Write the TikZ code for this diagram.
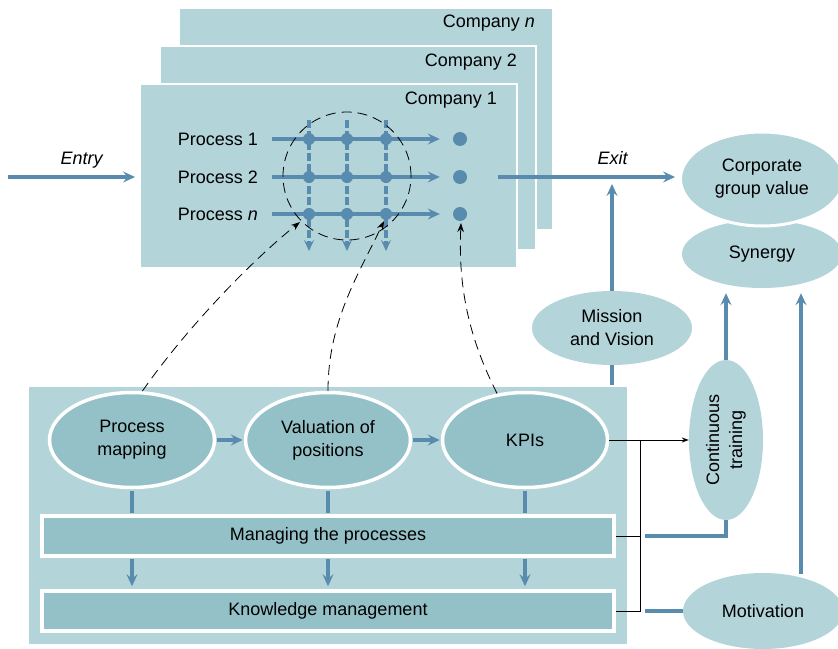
\documentclass[tikz,border=0pt]{standalone}
\usepackage{fontspec}
\setmainfont{Liberation Sans}
\usetikzlibrary{arrows.meta,shapes.geometric,calc}
\definecolor{lightfill}{HTML}{B3D4D9}
\definecolor{darkfill}{HTML}{94C1C7}
\definecolor{flow}{HTML}{588BAE}
\begin{document}
\begin{tikzpicture}[x=1pt,y=-1pt,
  font=\fontsize{18}{23}\selectfont,
  company/.style={fill=lightfill, draw=white, line width=2.5pt},
  flowline/.style={draw=flow, line width=3.8pt},
  flowarrow/.style={flowline, -{Stealth[length=12pt,width=11pt,inset=4.5pt]}},
  gridarrow/.style={draw=flow, line width=3.3pt, dash pattern=on 8pt off 3pt, -{Stealth[length=11pt,width=10pt,inset=4.5pt]}},
  dot/.style={circle, fill=flow, minimum size=12pt, inner sep=0},
  outdot/.style={circle, fill=flow, minimum size=14pt, inner sep=0},
  linkdash/.style={draw=black, line width=0.8pt, dash pattern=on 10pt off 6pt, -{Stealth[length=9pt,width=6.5pt]}},
  thinline/.style={draw=black, line width=1pt},
  darkoval/.style={ellipse, fill=darkfill, draw=white, line width=3.5pt, minimum width=165pt, minimum height=95pt, inner sep=0, align=center},
  lightoval/.style={ellipse, fill=lightfill, inner sep=0, align=center},
  bar/.style={rectangle, fill=darkfill, draw=white, line width=3.5pt, minimum width=572pt, minimum height=40pt, inner sep=0}
]
\clip (0,0) rectangle (838,648);
\fill[white] (0,0) rectangle (838,648);

% company stack
\draw[company] (179,8) rectangle (553,230);
\node[anchor=east, inner sep=0] (cn) at (535,23) {Company \textit{n}};
\draw[company] (160,46) rectangle (536,250);
\node[anchor=east, inner sep=0] (c2) at (517,62) {Company 2};
\draw[company] (140,84) rectangle (517,268);
\node[anchor=east, inner sep=0] (c1) at (497,100) {Company 1};

% entry
\coordinate (entry) at (8,177);
\coordinate (c1w) at (135,177);
\draw[flowarrow] (entry) -- (c1w);
\node (entrylab) at (82,160) {\textit{Entry}};

% processes
\node[anchor=east, inner sep=0] (p1) at (258,139) {Process 1};
\node[anchor=east, inner sep=0] (p2) at (258,177) {Process 2};
\node[anchor=east, inner sep=0] (p3) at (258,214) {Process \textit{n}};

\foreach \c/\x in {1/309,2/347,3/386} {
  \coordinate (vt\c) at (\x,120);
  \coordinate (vb\c) at (\x,251);
  \draw[gridarrow] (vt\c) -- (vb\c);
}
\foreach \r/\y in {1/139,2/177,3/214} {
  \node[outdot] (o\r) at (460,\y) {};
  \draw[flowarrow, shorten <=14pt, shorten >=13pt] (p\r.east) -- (o\r.west);
  \foreach \c/\x in {1/309,2/347,3/386} {
    \node[dot] (g\r\c) at (\x,\y) {};
  }
}
\node[circle, draw=black, line width=0.8pt, dash pattern=on 10pt off 6pt, minimum size=128pt, inner sep=0] (zone) at (347,176) {};

% right side ovals
\node[lightoval, minimum width=160pt, minimum height=68pt] (syn) at (762,254) {Synergy};
\node[lightoval, draw=white, line width=3pt, minimum width=163pt, minimum height=94pt] (cgv) at (762,179) {Corporate\\group value};
\node[lightoval, minimum width=160pt, minimum height=74pt] (mv) at (612,328) {Mission\\and Vision};
\node[lightoval, minimum width=74pt, minimum height=160pt] (ct) at (726,440)
  {\rotatebox{90}{\begin{tabular}{@{}c@{}}Continuous\\training\end{tabular}}};
\node[lightoval, minimum width=160pt, minimum height=76pt] (mot) at (763,611) {Motivation};

% exit
\coordinate (exitstart) at (498,177);
\draw[flowarrow, shorten >=4pt] (exitstart) -- (exitstart -| cgv.west);
\node (exitlab) at (613,158) {\textit{Exit}};
\draw[flowarrow, shorten >=7pt] (mv.north) -- (mv.north |- exitstart);
\draw[flowline] (mv.south) -- ++(0,30);

% bottom box
\draw[fill=lightfill, draw=white, line width=2pt] (28,386) rectangle (628,645);
\node[darkoval] (pm) at (132,440) {Process\\mapping};
\node[darkoval] (vp) at (328,440) {Valuation of\\positions};
\node[darkoval] (kpi) at (525,440) {KPIs};
\node[bar] (mp) at (328,536) {Managing the processes};
\node[bar] (km) at (328,611) {Knowledge management};

\draw[flowarrow, shorten <=1pt, shorten >=1pt] (pm.east) -- (vp.west);
\draw[flowarrow, shorten <=1pt, shorten >=1pt] (vp.east) -- (kpi.west);
\foreach \n in {pm,vp,kpi} {
  \draw[flowline, shorten <=1.5pt, shorten >=1.5pt] (\n.south) -- (\n.south |- mp.north);
  \draw[flowarrow, shorten <=1.5pt, shorten >=3pt] (mp.south -| \n) -- (km.north -| \n);
}

% dashed links
\draw[linkdash] (pm.78) .. controls (185,330) and (250,262) .. ($(g31)+(-9,8)$);
\draw[linkdash] (vp.north) .. controls (328,320) and (360,272) .. ($(g33)+(-2,7)$);
\draw[linkdash] (kpi.121) .. controls (470,340) and (458,290) .. ($(o3)+(1,9)$);

% bracket
\coordinate (br) at (640,440);
\draw[thinline] (kpi.east) -- (br);
\draw[thinline, -{Stealth[length=7pt,width=5pt]}] (br) -- (ct.west);
\draw[thinline] (br) -- (br |- km.east) -- (km.east);
\draw[thinline] (mp.east) -- (mp.east -| br);

\coordinate (tj1) at (645,536);
\coordinate (tj2) at (645,611);
\draw[flowline] (tj1) -| (ct.south);
\draw[flowline] (tj2) -- (mot.west);
\draw[flowarrow, shorten >=5pt] (ct.north) -- (ct.north |- syn.south);
\coordinate (motx) at (801,574);
\draw[flowarrow, shorten >=5pt] (motx) -- (motx |- syn.south);
\end{tikzpicture}
\end{document}
